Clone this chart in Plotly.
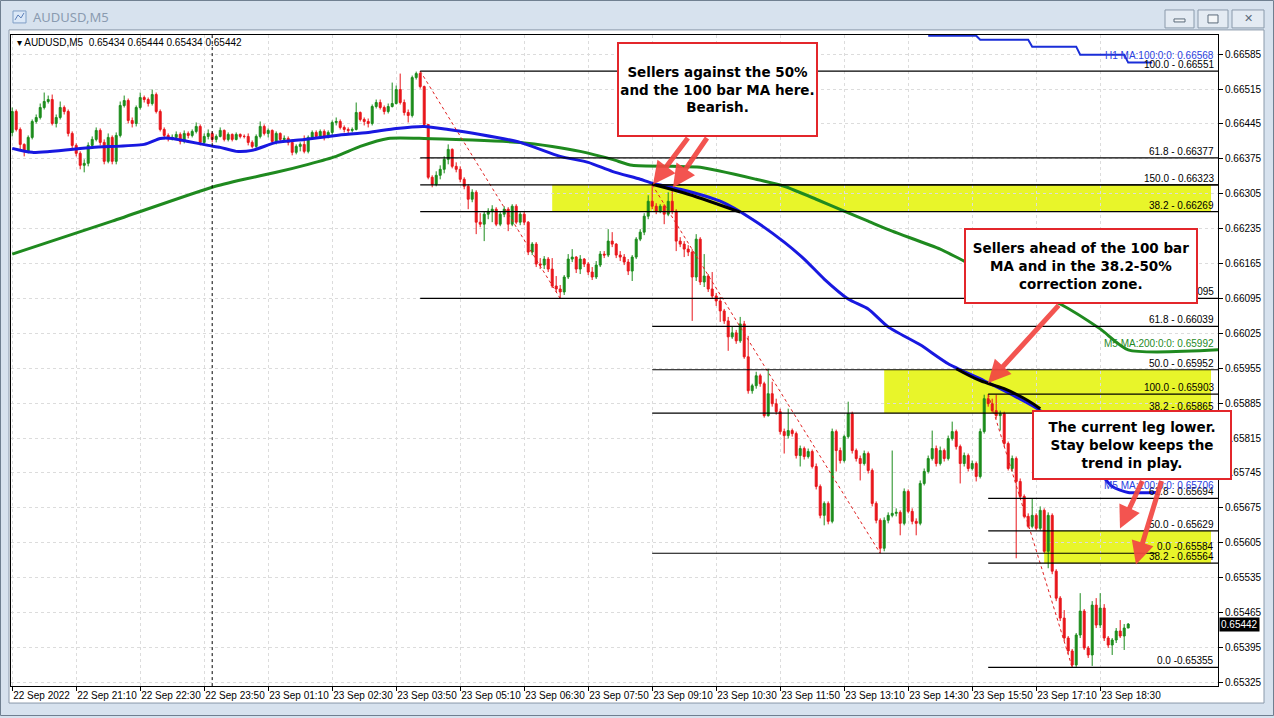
import plotly.graph_objects as go

# ---------------- DATA (prices in points = price * 1e5) ----------------
symbol = "AUDUSD,M5"
first_open_pts = 66428
close_pts = [
    66470, 66434, 66404, 66390, 66418, 66450, 66458, 66478, 66490, 66494,
    66446, 66458, 66478, 66470, 66426, 66402, 66386, 66362, 66366, 66402,
    66414, 66432, 66408, 66370, 66418, 66370, 66422, 66482, 66492, 66452,
    66446, 66478, 66498, 66494, 66486, 66504, 66470, 66434, 66422, 66416,
    66418, 66424, 66410, 66426, 66422, 66430, 66440, 66408, 66420, 66426,
    66414, 66420, 66432, 66414, 66424, 66414, 66424, 66420, 66420, 66408,
    66400, 66420, 66440, 66426, 66432, 66410, 66426, 66414, 66416, 66408,
    66388, 66400, 66404, 66390, 66418, 66428, 66420, 66430, 66418, 66428,
    66448, 66450, 66438, 66434, 66432, 66434, 66468, 66454, 66450, 66446,
    66480, 66488, 66478, 66470, 66480, 66486, 66514, 66488, 66468, 66462,
    66538, 66546, 66520, 66444, 66338, 66324, 66342, 66354, 66374, 66394,
    66360, 66354, 66334, 66320, 66294, 66308, 66248, 66244, 66264, 66270,
    66274, 66244, 66264, 66274, 66244, 66280, 66248, 66264, 66248, 66188,
    66204, 66164, 66162, 66174, 66154, 66120, 66114, 66108, 66138, 66174,
    66178, 66154, 66174, 66164, 66148, 66138, 66162, 66184, 66182, 66210,
    66204, 66182, 66178, 66168, 66150, 66178, 66214, 66228, 66260, 66290,
    66280, 66270, 66280, 66264, 66290, 66270, 66210, 66204, 66194, 66188,
    66138, 66214, 66128, 66140, 66114, 66100, 66090, 66070, 66050, 66018,
    66026, 66010, 66044, 65978, 65910, 65920, 65940, 65924, 65860, 65904,
    65884, 65868, 65828, 65820, 65830, 65824, 65780, 65794, 65778, 65788,
    65758, 65718, 65660, 65684, 65648, 65828, 65790, 65770, 65818, 65864,
    65790, 65774, 65764, 65784, 65750, 65684, 65650, 65594, 65650, 65660,
    65664, 65666, 65644, 65708, 65668, 65648, 65644, 65724, 65748, 65774,
    65794, 65764, 65790, 65774, 65814, 65828, 65798, 65764, 65780, 65754,
    65764, 65738, 65828, 65894, 65884, 65870, 65860, 65864, 65804, 65754,
    65774, 65728, 65698, 65658, 65638, 65660, 65634, 65670, 65588, 65660,
    65548, 65494, 65454, 65414, 65388, 65360, 65420, 65468, 65394, 65380,
    65480, 65440, 65474, 65414, 65400, 65410, 65428, 65418, 65434, 65442,
]
high_pts = [
    66478, 66474, 66438, 66406, 66422, 66454, 66464, 66486, 66508, 66502,
    66504, 66464, 66490, 66482, 66474, 66430, 66406, 66390, 66374, 66408,
    66420, 66438, 66436, 66414, 66426, 66422, 66428, 66490, 66502, 66496,
    66458, 66482, 66508, 66502, 66498, 66514, 66508, 66474, 66438, 66426,
    66424, 66430, 66428, 66432, 66430, 66434, 66448, 66444, 66426, 66434,
    66430, 66424, 66438, 66434, 66428, 66426, 66428, 66426, 66424, 66426,
    66412, 66424, 66450, 66444, 66436, 66434, 66430, 66428, 66422, 66420,
    66414, 66404, 66408, 66422, 66422, 66432, 66432, 66434, 66434, 66432,
    66452, 66458, 66454, 66442, 66438, 66438, 66488, 66470, 66458, 66456,
    66484, 66494, 66494, 66482, 66486, 66528, 66522, 66546, 66494, 66474,
    66542, 66550, 66551, 66522, 66444, 66342, 66350, 66362, 66380, 66404,
    66396, 66368, 66360, 66338, 66324, 66314, 66312, 66266, 66270, 66276,
    66282, 66278, 66270, 66280, 66278, 66284, 66284, 66268, 66270, 66250,
    66208, 66208, 66176, 66180, 66178, 66176, 66140, 66122, 66142, 66184,
    66194, 66180, 66182, 66176, 66168, 66158, 66170, 66190, 66190, 66234,
    66228, 66206, 66190, 66184, 66174, 66182, 66218, 66234, 66266, 66302,
    66323, 66286, 66284, 66284, 66308, 66318, 66274, 66218, 66210, 66202,
    66194, 66224, 66218, 66184, 66144, 66148, 66106, 66098, 66074, 66058,
    66038, 66032, 66058, 66050, 66020, 65924, 65948, 65944, 65928, 65954,
    65928, 65894, 65874, 65834, 65874, 65834, 65828, 65800, 65798, 65794,
    65792, 65764, 65722, 65688, 65688, 65834, 65832, 65796, 65822, 65888,
    65868, 65794, 65780, 65790, 65788, 65754, 65688, 65654, 65656, 65666,
    65790, 65674, 65670, 65714, 65712, 65674, 65654, 65730, 65754, 65780,
    65830, 65800, 65798, 65794, 65820, 65848, 65832, 65802, 65786, 65784,
    65770, 65768, 65834, 65902, 65903, 65894, 65902, 65870, 65868, 65808,
    65780, 65778, 65734, 65702, 65664, 65694, 65664, 65678, 65674, 65666,
    65664, 65552, 65498, 65470, 65418, 65392, 65424, 65504, 65472, 65398,
    65488, 65494, 65504, 65482, 65418, 65414, 65434, 65450, 65442, 65444,
]
low_pts = [
    66420, 66430, 66394, 66380, 66386, 66414, 66446, 66454, 66474, 66486,
    66442, 66438, 66454, 66464, 66420, 66396, 66380, 66354, 66348, 66360,
    66396, 66410, 66402, 66364, 66366, 66364, 66364, 66418, 66478, 66446,
    66438, 66440, 66474, 66488, 66480, 66482, 66466, 66430, 66414, 66410,
    66412, 66414, 66404, 66406, 66416, 66418, 66426, 66402, 66402, 66414,
    66408, 66408, 66418, 66410, 66410, 66410, 66412, 66416, 66416, 66402,
    66396, 66394, 66416, 66422, 66418, 66406, 66404, 66410, 66410, 66402,
    66382, 66384, 66390, 66386, 66386, 66414, 66416, 66418, 66412, 66416,
    66422, 66442, 66434, 66428, 66424, 66428, 66432, 66450, 66442, 66438,
    66442, 66476, 66474, 66464, 66466, 66478, 66484, 66484, 66462, 66448,
    66458, 66534, 66516, 66438, 66334, 66318, 66320, 66334, 66346, 66364,
    66356, 66348, 66328, 66314, 66274, 66288, 66224, 66238, 66210, 66254,
    66248, 66240, 66240, 66258, 66230, 66240, 66244, 66242, 66242, 66182,
    66182, 66158, 66154, 66154, 66148, 66116, 66108, 66095, 66102, 66134,
    66168, 66146, 66144, 66158, 66142, 66132, 66134, 66158, 66176, 66178,
    66198, 66176, 66170, 66162, 66142, 66130, 66174, 66210, 66222, 66254,
    66274, 66264, 66266, 66244, 66260, 66264, 66190, 66198, 66178, 66180,
    66050, 66130, 66122, 66118, 66108, 66094, 66080, 66048, 66044, 65990,
    66014, 66004, 66006, 65974, 65904, 65904, 65914, 65918, 65856, 65858,
    65878, 65862, 65822, 65784, 65814, 65818, 65774, 65758, 65772, 65774,
    65754, 65712, 65654, 65640, 65642, 65644, 65748, 65764, 65766, 65814,
    65784, 65768, 65730, 65760, 65744, 65678, 65644, 65584, 65588, 65644,
    65656, 65658, 65620, 65640, 65664, 65642, 65620, 65640, 65720, 65744,
    65770, 65758, 65760, 65768, 65770, 65810, 65792, 65724, 65758, 65748,
    65750, 65728, 65734, 65824, 65878, 65866, 65854, 65830, 65798, 65750,
    65748, 65574, 65694, 65654, 65634, 65634, 65630, 65630, 65584, 65554,
    65542, 65488, 65448, 65408, 65382, 65355, 65356, 65414, 65390, 65374,
    65358, 65434, 65434, 65408, 65394, 65380, 65404, 65414, 65390, 65434,
]

# moving averages (bar index, points)
ma100_idx = [0, 5, 20, 33, 37, 40, 44, 49, 52, 56, 60, 66, 73, 81, 89, 96, 103, 109, 117, 127,
             137, 144, 150, 157, 160, 167, 177, 185, 193, 198, 203, 209, 214, 219, 227, 234, 243,
             257, 267, 275, 279]
ma100_pts = [66396, 66388, 66398, 66404, 66416, 66416, 66410, 66402, 66398, 66390, 66392, 66408,
             66414, 66422, 66428, 66436, 66440, 66434, 66424, 66408, 66380, 66368, 66350, 66334,
             66326, 66314, 66290, 66254, 66208, 66174, 66134, 66094, 66074, 66038, 66002, 65964,
             65930, 65870, 65794, 65718, 65706]
ma200_idx = [0, 25, 50, 58, 66, 74, 81, 87, 94, 103, 127, 135, 142, 150, 155, 165, 172, 186, 193,
             201, 208, 214, 220, 232, 238, 262, 272, 279]
ma200_pts = [66184, 66250, 66318, 66334, 66348, 66364, 66380, 66400, 66416, 66416, 66408, 66400,
             66390, 66374, 66362, 66360, 66358, 66334, 66320, 66294, 66270, 66250, 66230, 66194,
             66170, 66084, 66034, 65992]
h1ma_idx = [229, 241, 242, 254, 255, 266, 267, 278, 279, 285]
h1ma_pts = [66622, 66622, 66614, 66614, 66600, 66600, 66584, 66584, 66568, 66568]

# black trend-line drawings over the MA
black1_idx = [160, 169, 182]
black1_pts = [66324, 66304, 66268]
black2_idx = [236, 242, 248, 254, 257]
black2_pts = [65954, 65930, 65914, 65890, 65874]

# Fibonacci levels
fib_start = [102, 102, 102, 102, 102, 160, 160, 160, 160, 160, 244, 244, 244, 244, 244]
fib_end = [301.5, 301.5, 301.5, 301.5, 301.5, 301.5, 301.5, 301.5, 301.5, 286, 301.5, 301.5, 301.5, 301.5, 301.5]
fib_pts = [66551, 66377, 66323, 66269, 66095, 66323, 66039, 65952, 65865, 65584, 65903, 65694, 65629, 65564, 65355]
fib_labels = ["100.0 - 0.66551", "61.8 - 0.66377", "", "38.2 - 0.66269", "0.0 - 0.66095",
              "150.0 - 0.66323", "61.8 - 0.66039", "50.0 - 0.65952", "38.2 - 0.65865", "0.0 -0.65584",
              "100.0 - 0.65903", "61.8 - 0.65694", "50.0 - 0.65629", "38.2 - 0.65564", "0.0 -0.65355"]
# swing lines (dotted red)
swing_idx = [(102, 137), (160, 217), (244, 265)]
swing_pts = [(66551, 66095), (66323, 65584), (65903, 65355)]
# yellow zones (start bar, top, bottom)
zone_start = [135, 218, 258]
zone_top = [66323, 65952, 65629]
zone_bot = [66269, 65865, 65564]

time_tick_bars = [0, 16, 32, 48, 64, 80, 96, 112, 128, 144, 160, 176, 192, 208, 224, 240, 256, 272]
time_tick_labels = ["22 Sep 2022", "22 Sep 21:10", "22 Sep 22:30", "22 Sep 23:50", "23 Sep 01:10",
                    "23 Sep 02:30", "23 Sep 03:50", "23 Sep 05:10", "23 Sep 06:30", "23 Sep 07:50",
                    "23 Sep 09:10", "23 Sep 10:30", "23 Sep 11:50", "23 Sep 13:10", "23 Sep 14:30",
                    "23 Sep 15:50", "23 Sep 17:10", "23 Sep 18:30"]
price_ticks = [0.65325, 0.65395, 0.65465, 0.65535, 0.65605, 0.65675, 0.65745, 0.65815, 0.65885,
               0.65955, 0.66025, 0.66095, 0.66165, 0.66235, 0.66305, 0.66375, 0.66445, 0.66515, 0.66585]
day_separator_bar = 50

box_texts = ["Sellers against the 50%<br>and the 100 bar MA here.<br>Bearish.",
             "Sellers ahead of the 100 bar<br>MA and in the 38.2-50%<br>correction zone.",
             "The current leg lower.<br>Stay below keeps the<br>trend in play."]

# ---------------- helpers ----------------
W, H = 1274, 718
Y_RANGE = [0.653176, 0.666236]
def P(v):
    return v / 100000.0
def fx(x):
    return x / W
def fy(y):
    return 1 - y / H

n = len(close_pts)
idx = list(range(n))
open_pts = [first_open_pts] + close_pts[:-1]

GREEN = "#1c8c1c"
RED = "#e8161b"
BLUE = "#1818e0"
FONT = "Liberation Sans, Arial, sans-serif"
LBL = 10

fig = go.Figure()

fig.add_trace(go.Candlestick(
    x=idx, open=[P(v) for v in open_pts], high=[P(v) for v in high_pts],
    low=[P(v) for v in low_pts], close=[P(v) for v in close_pts],
    increasing=dict(line=dict(color=GREEN, width=1), fillcolor=GREEN),
    decreasing=dict(line=dict(color=RED, width=1), fillcolor=RED),
    whiskerwidth=0, hoverinfo="skip", showlegend=False))

fig.add_trace(go.Scatter(x=ma200_idx + [301.5], y=[P(v) for v in ma200_pts] + [P(ma200_pts[-1])],
                         mode="lines", line=dict(color="#1f8a1f", width=3, shape="spline", smoothing=0.6),
                         hoverinfo="skip", showlegend=False))
fig.add_trace(go.Scatter(x=ma100_idx + [286], y=[P(v) for v in ma100_pts] + [P(ma100_pts[-1])],
                         mode="lines", line=dict(color=BLUE, width=3, shape="spline", smoothing=0.6),
                         hoverinfo="skip", showlegend=False))
fig.add_trace(go.Scatter(x=h1ma_idx, y=[P(v) for v in h1ma_pts], mode="lines",
                         line=dict(color="#1a2ed8", width=2), hoverinfo="skip", showlegend=False))
for bi, bp in ((black1_idx, black1_pts), (black2_idx, black2_pts)):
    fig.add_trace(go.Scatter(x=bi, y=[P(v) for v in bp], mode="lines",
                             line=dict(color="black", width=3, shape="spline"),
                             hoverinfo="skip", showlegend=False))
for (i0, i1), (p0, p1) in zip(swing_idx, swing_pts):
    fig.add_trace(go.Scatter(x=[i0, i1], y=[P(p0), P(p1)], mode="lines",
                             line=dict(color="#e02020", width=1, dash="dot"),
                             hoverinfo="skip", showlegend=False))
# day separator (vertical dashed line)
fig.add_trace(go.Scatter(x=[day_separator_bar, day_separator_bar], y=Y_RANGE, mode="lines",
                         line=dict(color="black", width=1, dash="3px,3px"),
                         hoverinfo="skip", showlegend=False))

shapes = []
# window frame
shapes.append(dict(type="rect", xref="paper", yref="paper", x0=fx(0.5), x1=fx(1273.5), y0=fy(717.5), y1=fy(0.5),
                   line=dict(color="#6f7f90", width=1), fillcolor="rgba(0,0,0,0)", layer="below"))
shapes.append(dict(type="rect", xref="paper", yref="paper", x0=fx(9), x1=fx(1264), y0=fy(705), y1=fy(30),
                   line=dict(color="#8a99aa", width=1), fillcolor="white", layer="below"))
# title icon
shapes.append(dict(type="rect", xref="paper", yref="paper", x0=fx(13), x1=fx(26), y0=fy(23), y1=fy(11),
                   line=dict(color="#7f9fc6", width=1), fillcolor="#dbe8f7", layer="below"))
shapes.append(dict(type="path", xref="paper", yref="paper", layer="below",
                   path=f"M {fx(15)} {fy(20)} L {fx(18)} {fy(15)} L {fx(21)} {fy(18)} L {fx(24)} {fy(13)}",
                   line=dict(color="#5b7fb8", width=1)))
# window buttons
for x0, x1 in ((1165, 1194), (1198, 1228), (1232, 1264)):
    shapes.append(dict(type="rect", xref="paper", yref="paper", x0=fx(x0), x1=fx(x1), y0=fy(28), y1=fy(10),
                       line=dict(color="#8a9aab", width=1), fillcolor="#e4ebf3", layer="below"))
shapes.append(dict(type="rect", xref="paper", yref="paper", x0=fx(1174), x1=fx(1185), y0=fy(22), y1=fy(19),
                   line=dict(color="#5a6a7a", width=1), fillcolor="#f4f6f8", layer="below"))
shapes.append(dict(type="rect", xref="paper", yref="paper", x0=fx(1208), x1=fx(1218), y0=fy(23), y1=fy(15),
                   line=dict(color="#5a6a7a", width=1), fillcolor="#f4f6f8", layer="below"))
# yellow zones
for s, t, b in zip(zone_start, zone_top, zone_bot):
    shapes.append(dict(type="rect", xref="x", yref="y", x0=s, x1=299.7, y0=P(b), y1=P(t),
                       line=dict(width=0), fillcolor="#e8f52a", layer="below"))
# fib lines
for s, e, p in zip(fib_start, fib_end, fib_pts):
    shapes.append(dict(type="line", xref="x", yref="y", x0=s, x1=e, y0=P(p), y1=P(p),
                       line=dict(color="black", width=1.2), layer="above"))

ann = []
ann.append(dict(xref="paper", yref="paper", x=fx(31), y=fy(17), text=symbol, showarrow=False,
                xanchor="left", yanchor="middle", font=dict(family="Noto Sans, sans-serif", size=13, color="#8a9bb0")))
ann.append(dict(xref="paper", yref="paper", x=fx(1248), y=fy(19), text="✕", showarrow=False,
                xanchor="center", yanchor="middle", font=dict(family="DejaVu Sans", size=11, color="#5a6a7a")))
ann.append(dict(xref="paper", yref="paper", x=fx(15), y=fy(43),
                text="▾ " + symbol + "  " + " ".join(f"{P(v):.5f}" for v in
                                                    (open_pts[-1], high_pts[-1], low_pts[-1], close_pts[-1])),
                showarrow=False, xanchor="left", yanchor="middle", font=dict(family=FONT, size=10, color="black")))
# fib labels
for lab, p in zip(fib_labels, fib_pts):
    if lab:
        ann.append(dict(xref="x", yref="y", x=301.0, y=P(p), text=lab, showarrow=False, xanchor="right",
                        yanchor="bottom", yshift=-1, font=dict(family=FONT, size=LBL, color="black")))
# MA labels
ann.append(dict(xref="x", yref="y", x=301.0, y=P(h1ma_pts[-1]), text=f"H1 MA:100:0:0: {P(h1ma_pts[-1]):.5f}",
                showarrow=False, xanchor="right", yanchor="bottom", yshift=0,
                font=dict(family=FONT, size=LBL, color="#2a3ee0")))
ann.append(dict(xref="x", yref="y", x=301.0, y=P(ma200_pts[-1]), text=f"M5 MA:200:0:0: {P(ma200_pts[-1]):.5f}",
                showarrow=False, xanchor="right", yanchor="bottom", yshift=-1,
                font=dict(family=FONT, size=LBL, color="#1f8a1f")))
ann.append(dict(xref="x", yref="y", x=301.0, y=P(ma100_pts[-1]), text=f"M5 MA:100:0:0: {P(ma100_pts[-1]):.5f}",
                showarrow=False, xanchor="right", yanchor="bottom", yshift=-1,
                font=dict(family=FONT, size=LBL, color="#2a3ee0")))
# current price tag
ann.append(dict(xref="paper", yref="y", x=fx(1219), y=P(close_pts[-1]), text=f"{P(close_pts[-1]):.5f}",
                showarrow=False, xanchor="left", yanchor="middle", bgcolor="black", borderpad=1,
                font=dict(family=FONT, size=LBL, color="white")))

# text boxes (left, top, right, bottom in px)
boxes = [(617, 42, 818, 137), (964, 229, 1198, 305), (1032, 411, 1232, 481)]
for (l, t, r, b), txt in zip(boxes, box_texts):
    ann.append(dict(xref="paper", yref="paper", x=fx((l + r) / 2), y=fy((t + b) / 2), text="<b>" + txt + "</b>",
                    showarrow=False, xanchor="center", yanchor="middle", width=r - l - 4, height=b - t - 4,
                    bgcolor="white", bordercolor="#e3262b", borderwidth=2, borderpad=0, align="center",
                    valign="middle", font=dict(family="DejaVu Sans, Verdana, sans-serif", size=13.5, color="black")))
# arrows: (tail x, tail y, head x, head y)
arrows = [(689, 137, 653, 185), (708, 137, 673, 188), (1060, 305, 988, 384),
          (1143, 481, 1120, 530), (1162, 481, 1136, 566)]
for tx, ty, hx, hy in arrows:
    ann.append(dict(xref="paper", yref="paper", x=fx(hx), y=fy(hy), ax=tx - hx, ay=ty - hy,
                    axref="pixel", ayref="pixel", showarrow=True, arrowhead=2, arrowsize=0.9,
                    arrowwidth=5, arrowcolor="rgba(242,70,66,0.92)", text=""))

fig.update_layout(
    width=W, height=H, margin=dict(l=0, r=0, t=0, b=0),
    paper_bgcolor="#d7e2ee", plot_bgcolor="white",
    showlegend=False, hovermode=False,
    shapes=shapes, annotations=ann,
    xaxis=dict(domain=[fx(11), fx(1218)], range=[-0.3, 301.45], rangeslider=dict(visible=False),
               tickmode="array", tickvals=time_tick_bars, ticktext=time_tick_labels,
               ticklabelposition="outside right", tickangle=0,
               showgrid=True, gridcolor="#dcdcdc", griddash="3px,3px", gridwidth=1,
               showline=True, linecolor="black", linewidth=1, mirror=True,
               ticks="outside", ticklen=4, tickcolor="black", zeroline=False,
               tickfont=dict(family=FONT, size=LBL, color="black"), fixedrange=True),
    yaxis=dict(domain=[fy(688), fy(35)], range=Y_RANGE, side="right",
               tickmode="array", tickvals=price_ticks, ticktext=[f"{v:.5f}" for v in price_ticks],
               showgrid=True, gridcolor="#dcdcdc", griddash="3px,3px", gridwidth=1,
               showline=True, linecolor="black", linewidth=1, mirror=True,
               ticks="outside", ticklen=4, tickcolor="black", zeroline=False,
               tickfont=dict(family=FONT, size=LBL, color="black"), fixedrange=True),
)

fig.write_html("out.html", config={"displayModeBar": False},
               post_script="document.body.style.margin='0';document.body.style.overflow='hidden';")
